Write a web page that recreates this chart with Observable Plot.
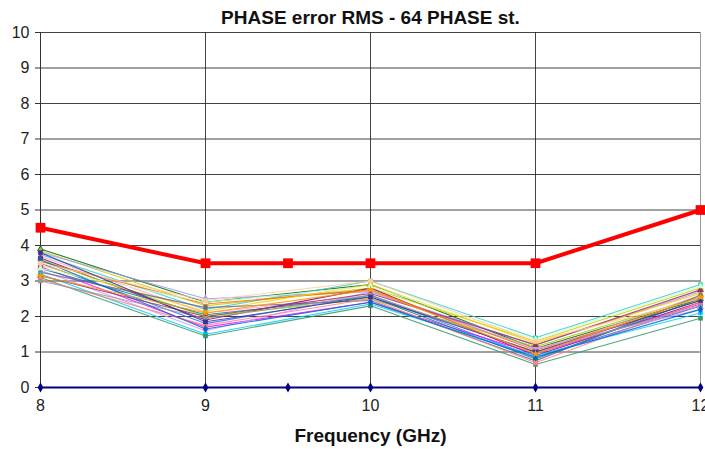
<!DOCTYPE html>
<html><head><meta charset="utf-8">
<script src="https://cdn.jsdelivr.net/npm/d3@7"></script>
<script src="https://cdn.jsdelivr.net/npm/@observablehq/plot@0.6"></script>
<style>body{margin:0;background:#fff} svg{display:block}</style>
</head><body><div id="chart"></div>
<script>
const titleText = "PHASE error RMS - 64 PHASE st.";
const xLabel = "Frequency (GHz)";
const freqs = [8, 9, 10, 11, 12];
const limitFreqs = [8, 9, 9.5, 10, 11, 12];
const limitValues = [4.5, 3.5, 3.5, 3.5, 3.5, 5];
const baseValues = [0, 0, 0, 0, 0, 0];
const yTicks = [0, 1, 2, 3, 4, 5, 6, 7, 8, 9, 10];
const xTicks = [8, 9, 10, 11, 12];

const s01 = [3.9, 2.4, 2.9, 1.1, 2.5];
const s02 = [3.85, 2.3, 2.8, 1.3, 2.8];
const s03 = [3.8, 2.5, 2.7, 1.2, 2.7];
const s04 = [3.75, 2.2, 3.0, 1.4, 2.9];
const s05 = [3.7, 2.1, 2.6, 1.0, 2.6];
const s06 = [3.65, 1.9, 2.8, 0.9, 2.4];
const s07 = [3.6, 2.0, 2.5, 1.15, 2.55];
const s08 = [3.55, 2.35, 2.75, 1.05, 2.45];
const s09 = [3.5, 1.8, 2.6, 0.85, 2.3];
const s10 = [3.45, 2.15, 2.9, 1.25, 2.65];
const s11 = [3.4, 1.7, 2.4, 0.95, 2.35];
const s12 = [3.35, 2.05, 2.55, 0.8, 2.5];
const s13 = [3.3, 1.6, 2.7, 1.1, 2.2];
const s14 = [3.25, 2.25, 2.45, 0.75, 2.6];
const s15 = [3.2, 1.5, 2.35, 0.9, 2.1];
const s16 = [3.15, 2.0, 2.65, 1.2, 2.75];
const s17 = [3.1, 1.45, 2.3, 0.65, 1.95];
const s18 = [3.05, 1.75, 2.5, 0.7, 2.4];
const s19 = [3.0, 1.95, 2.6, 1.0, 2.3];
const s20 = [3.35, 2.4, 2.85, 1.35, 2.85];
const s21 = [3.6, 1.65, 2.4, 0.85, 2.2];
const s22 = [3.5, 2.45, 3.0, 1.3, 2.5];
const s23 = [3.8, 1.85, 2.55, 1.0, 2.45];
const s24 = [3.15, 2.1, 2.75, 0.95, 2.55];
const seriesValues = [s01,s02,s03,s04,s05,s06,s07,s08,s09,s10,s11,s12,s13,s14,s15,s16,s17,s18,s19,s20,s21,s22,s23,s24];
const seriesColors = ["#006400","#cccc00","#9999ff","#33cccc","#ff99cc","#800080","#99cc00","#ff6600","#3366ff","#ffcc00","#ff00ff","#008080","#cc99ff","#666699","#00ccff","#993366","#339966","#ff8080","#969696","#ccffcc","#0066cc","#ffcc99","#333399","#ff9900"];
const seriesSymbols = ["triangle","triangle","diamond","square","circle","circle","cross","square","diamond","triangle","square","circle","star","diamond","square","triangle","square","circle","square","triangle","diamond","circle","square","star"];

const rows = seriesValues.flatMap((vals, i) => vals.map((v, j) => ({s: i, x: freqs[j], y: v})));
const limitRows = limitFreqs.map((f, i) => ({x: f, y: limitValues[i]}));
const baseRows = limitFreqs.map((f, i) => ({x: f, y: baseValues[i]}));

const chart = Plot.plot({
  width: 705, height: 449,
  marginLeft: 40, marginRight: 5, marginTop: 32, marginBottom: 62,
  style: {fontFamily: "Liberation Sans, Arial, sans-serif", fontSize: "16px", background: "#fff", color: "#222"},
  x: {domain: [8, 12]},
  y: {domain: [0, 10]},
  marks: [
    Plot.gridY(yTicks, {stroke: "#222", strokeOpacity: 0.85}),
    Plot.ruleX([9, 10, 11], {stroke: "#222", strokeOpacity: 0.85}),
    Plot.ruleX([12], {stroke: "#999"}),
    Plot.ruleX([8], {stroke: "#333"}),
    Plot.axisY(yTicks, {tickSize: 5, tickPadding: 6, stroke: "#333", label: null, fontSize: 16, tickFormat: d3.format("d")}),
    Plot.axisX(xTicks, {tickSize: 0, tickPadding: 12, label: null, fontSize: 16, tickFormat: d3.format("d")}),
    ...seriesValues.map((vals, i) => Plot.line(rows.filter(d => d.s === i), {x: "x", y: "y", stroke: seriesColors[i], strokeWidth: 1.1, strokeOpacity: 0.85})),
    ...seriesValues.map((vals, i) => Plot.dot(rows.filter(d => d.s === i), {x: "x", y: "y", fill: seriesColors[i], symbol: () => seriesSymbols[i], r: 2.6})),
    Plot.line(limitRows, {x: "x", y: "y", stroke: "#ff0000", strokeWidth: 4}),
    Plot.dot(limitRows, {x: "x", y: "y", fill: "#ff0000", symbol: "square", r: 5.5}),
    Plot.line(baseRows, {x: "x", y: "y", stroke: "#000080", strokeWidth: 2}),
    Plot.dot(baseRows, {x: "x", y: "y", fill: "#000080", symbol: "diamond", r: 3}),
    Plot.text([titleText], {frameAnchor: "top", dy: -22, fontWeight: "bold", fontSize: 19, fill: "#111"}),
    Plot.text([xLabel], {frameAnchor: "bottom", dy: 54, fontWeight: "bold", fontSize: 19, fill: "#111"})
  ]
});
document.getElementById("chart").append(chart);
</script>
</body></html>
